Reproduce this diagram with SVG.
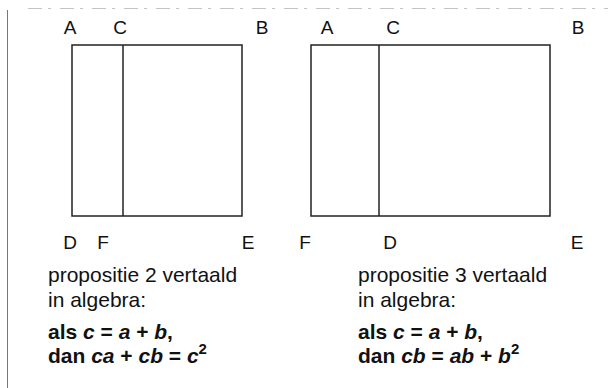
<svg xmlns="http://www.w3.org/2000/svg" width="608" height="388" viewBox="0 0 608 388">
  <style>
    .frame { fill: none; stroke: #222; stroke-width: 1.5; }
    .div { stroke: #222; stroke-width: 1.5; }
    .lbl { font-family: "Liberation Sans", Arial, sans-serif; font-size: 19px; fill: #111; text-anchor: middle; }
    .txt { font-family: "Liberation Sans", Arial, sans-serif; font-size: 21px; fill: #111; }
    .eq { font-family: "Liberation Sans", Arial, sans-serif; font-size: 21px; font-weight: bold; fill: #111; }
    .v { font-style: italic; }
    .sup { font-size: 15px; }
    .border { stroke: #777; stroke-width: 1; }
    .scan { stroke: #c4c4c4; stroke-width: 1; stroke-dasharray: 14 6 3 9; }
  </style>
  <rect width="608" height="388" fill="#fff"/>
  <g id="page-edges">
    <line class="border" x1="7.5" y1="10" x2="7.5" y2="388"/>
    <line class="scan" x1="28" y1="8.5" x2="608" y2="8.5"/>
  </g>
  <g id="figure-left">
    <rect class="frame" x="72" y="45" width="170" height="171"/>
    <line class="div" x1="123" y1="45" x2="123" y2="216"/>
    <text class="lbl" x="70" y="34">A</text>
    <text class="lbl" x="120" y="34">C</text>
    <text class="lbl" x="262" y="34">B</text>
    <text class="lbl" x="70" y="249">D</text>
    <text class="lbl" x="103" y="249">F</text>
    <text class="lbl" x="248" y="249">E</text>
  </g>
  <g id="figure-right">
    <rect class="frame" x="311" y="45" width="239" height="171"/>
    <line class="div" x1="379" y1="45" x2="379" y2="216"/>
    <text class="lbl" x="327" y="34">A</text>
    <text class="lbl" x="393" y="34">C</text>
    <text class="lbl" x="578" y="34">B</text>
    <text class="lbl" x="305" y="249">F</text>
    <text class="lbl" x="390" y="249">D</text>
    <text class="lbl" x="577" y="249">E</text>
  </g>
  <g id="caption-left">
    <text class="txt" x="48" y="282">propositie 2 vertaald</text>
    <text class="txt" x="48" y="307">in algebra:</text>
    <text class="eq" x="48" y="339">als <tspan class="v">c</tspan> = <tspan class="v">a</tspan> + <tspan class="v">b</tspan>,</text>
    <text class="eq" x="48" y="363">dan <tspan class="v">ca</tspan> + <tspan class="v">cb</tspan> = <tspan class="v">c</tspan><tspan class="sup" dy="-9">2</tspan></text>
  </g>
  <g id="caption-right">
    <text class="txt" x="358" y="282">propositie 3 vertaald</text>
    <text class="txt" x="358" y="307">in algebra:</text>
    <text class="eq" x="358" y="339">als <tspan class="v">c</tspan> = <tspan class="v">a</tspan> + <tspan class="v">b</tspan>,</text>
    <text class="eq" x="358" y="363">dan <tspan class="v">cb</tspan> = <tspan class="v">ab</tspan> + <tspan class="v">b</tspan><tspan class="sup" dy="-9">2</tspan></text>
  </g>
  <g id="connectors"/>
</svg>
